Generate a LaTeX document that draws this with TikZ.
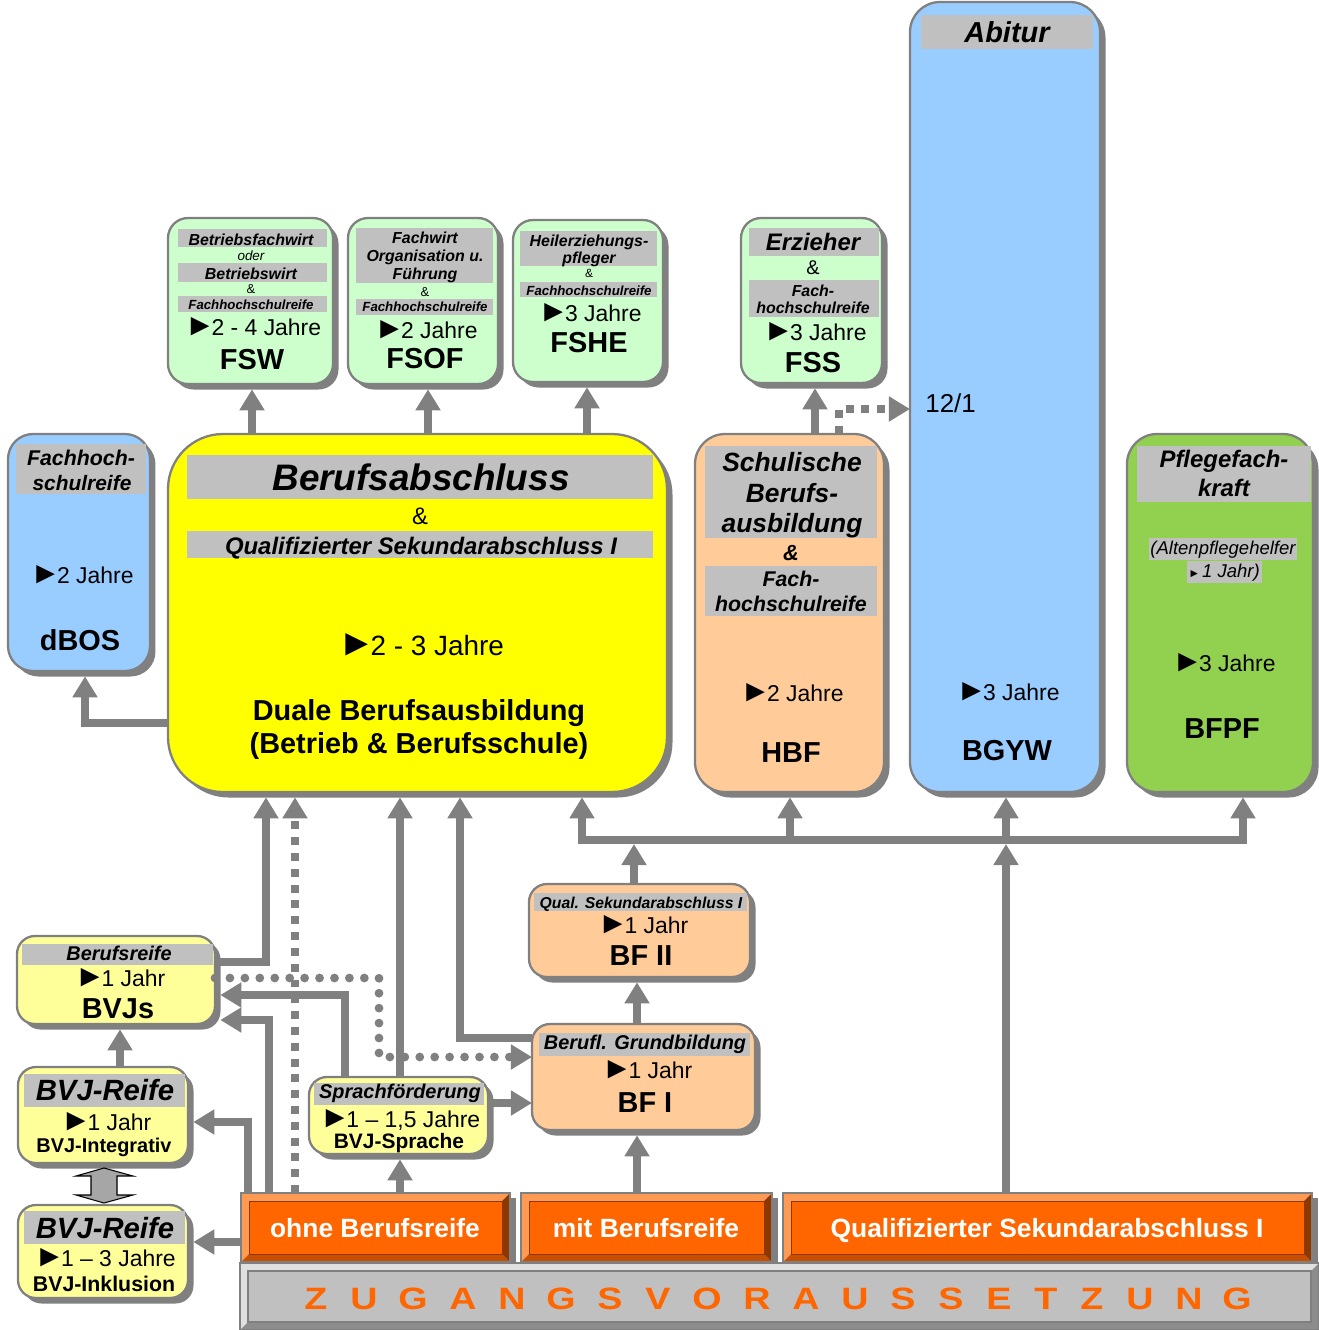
\documentclass[tikz,border=0pt]{standalone}
\usepackage{fontspec}
\setmainfont{Liberation Sans}
\usetikzlibrary{arrows.meta,shadows}
\definecolor{lg}{HTML}{808080}
\definecolor{barc}{HTML}{C0C0C0}
\definecolor{mint}{HTML}{CCFFCC}
\definecolor{sky}{HTML}{99CCFF}
\definecolor{yel}{HTML}{FFFF00}
\definecolor{peach}{HTML}{FFCC99}
\definecolor{grn}{HTML}{92D050}
\definecolor{lyel}{HTML}{FFFF99}
\definecolor{org}{HTML}{FF6600}
\definecolor{orgl}{HTML}{FF9A55}
\definecolor{orgd}{HTML}{C84F00}
\definecolor{orgdd}{HTML}{8C3800}
\definecolor{gl}{HTML}{E0E0E0}
\definecolor{gd}{HTML}{8C8C8C}
\definecolor{dblg}{HTML}{A6A6A6}
\newcommand\fpx[1]{\pgfmathsetmacro\fpxs{#1*0.567}\pgfmathsetmacro\fpxb{#1*0.68}\fontsize{\fpxs pt}{\fpxb pt}\selectfont}
\newcommand\tri{\scalebox{1.35}{►}\kern-0.17em}
\newcommand\mkbox[7]{\node[rectangle, rounded corners=#7, fill=#6, draw=lg, line width=1.3pt, inner sep=0pt, outer sep=0pt, anchor=north west, minimum width={(#4-#2)*0.02cm}, minimum height={(#5-#3)*0.02cm}, general shadow={fill=lg, shadow xshift=0.11cm, shadow yshift=-0.11cm}] (#1) at (#2,#3) {};}
\newcommand\obox[5]{%
 \fill[lg] (#4,{#3+5}) rectangle ({#4+6},#5);
 \fill[orgl] (#2,#3) -- (#4,#3) -- ({#4-8},{#3+8}) -- ({#2+8},{#3+8}) -- ({#2+8},{#5-8}) -- (#2,#5) -- cycle;
 \fill[orgd] (#2,#5) -- ({#2+8},{#5-8}) -- ({#4-8},{#5-8}) -- (#4,#5) -- cycle;
 \fill[orgdd] (#4,#3) -- (#4,#5) -- ({#4-8},{#5-8}) -- ({#4-8},{#3+8}) -- cycle;
 \filldraw[fill=org, draw=orgdd, line width=0.5pt] ({#2+8},{#3+8}) rectangle ({#4-8},{#5-8});
 \node[draw=lg, line width=0.8pt, inner sep=0pt, outer sep=0pt, anchor=north west, minimum width={(#4-#2)*0.02cm}, minimum height={(#5-#3)*0.02cm}] (#1) at (#2,#3) {};}
\begin{document}
\begin{tikzpicture}[x=0.02cm,y=-0.02cm,
 tx/.style={inner sep=0pt, anchor=base, font=\fpx{#1}},
 tb/.style={inner sep=0pt, anchor=base, font=\fpx{#1}\bfseries},
 ti/.style={inner sep=0pt, anchor=base, font=\fpx{#1}\itshape},
 tbi/.style={inner sep=0pt, anchor=base, font=\fpx{#1}\bfseries\itshape},
 ln/.style={draw=lg, line width=4.3pt},
 arr/.style={ln, -{Triangle[width=13.6pt,length=12pt]}},
 sh/.style={shorten >=3pt},
 sqd/.style={dash pattern=on 4.5pt off 4.5pt},
 rdt/.style={line cap=round, line width=5pt, dash pattern=on 0pt off 8.5pt}]
\useasboundingbox (0,0) rectangle (1319,1330);

% ---------- boxes ----------
\mkbox{fsw}{168}{218}{333}{384}{mint}{0.4cm}
\mkbox{fsof}{348}{218}{498}{384}{mint}{0.4cm}
\mkbox{fshe}{513}{220}{663}{382}{mint}{0.4cm}
\mkbox{fss}{741}{218}{882}{383}{mint}{0.4cm}
\mkbox{abi}{910}{2}{1100}{792}{sky}{0.6cm}
\mkbox{dbos}{8}{434}{150}{671}{sky}{0.5cm}
\mkbox{duale}{168}{434}{667}{792}{yel}{1.1cm}
\mkbox{hbf}{695}{434}{884}{792}{peach}{0.6cm}
\mkbox{bfpf}{1127}{434}{1313}{792}{grn}{0.6cm}
\mkbox{bfzwei}{529}{884}{750}{977}{peach}{0.36cm}
\mkbox{bfeins}{532}{1024}{755}{1130}{peach}{0.36cm}
\mkbox{bvjs}{17}{936}{215}{1024}{lyel}{0.36cm}
\mkbox{bvjint}{18}{1067}{188}{1163}{lyel}{0.36cm}
\mkbox{bvjink}{18}{1205}{188}{1298}{lyel}{0.36cm}
\mkbox{sprach}{309}{1077}{488}{1154}{lyel}{0.36cm}

% bottom bevel boxes
\obox{ohne}{241}{1193}{510}{1262}
\obox{mit}{521}{1193}{772}{1262}
\obox{qual}{783}{1193}{1312}{1262}
\fill[gl] (240,1263) -- (1319,1263) -- (1311,1271) -- (248,1271) -- (248,1322) -- (240,1330) -- cycle;
\fill[gd] (240,1330) -- (248,1322) -- (1311,1322) -- (1311,1271) -- (1319,1263) -- (1319,1330) -- cycle;
\filldraw[fill=barc, draw=lg, line width=1pt] (248,1271) rectangle (1311,1322);
\node[draw=lg, line width=0.8pt, inner sep=0pt, outer sep=0pt, anchor=north west, minimum width={1079*0.02cm}, minimum height={67*0.02cm}] (zug) at (240,1263) {};

% ---------- gray label bars ----------
\fill[barc] (178,229) rectangle (327,247);
\fill[barc] (178,263) rectangle (327,282);
\fill[barc] (178,296) rectangle (327,312);
\fill[barc] (356,228) rectangle (493,283);
\fill[barc] (356,299) rectangle (493,315);
\fill[barc] (520,231) rectangle (657,266);
\fill[barc] (520,282) rectangle (657,297);
\fill[barc] (749,228) rectangle (879,256);
\fill[barc] (749,280) rectangle (879,317);
\fill[barc] (921,15) rectangle (1093,49);
\fill[barc] (16,444) rectangle (146,494);
\fill[barc] (187,455) rectangle (653,499);
\fill[barc] (187,531) rectangle (653,558);
\fill[barc] (705,446) rectangle (877,538);
\fill[barc] (705,566) rectangle (877,616);
\fill[barc] (1137,446) rectangle (1311,502);
\fill[barc] (534,893) rectangle (747,911);
\fill[barc] (539,1033) rectangle (750,1056);
\fill[barc] (22,944) rectangle (213,965);
\fill[barc] (24,1074) rectangle (185,1107);
\fill[barc] (24,1211) rectangle (185,1244);
\fill[barc] (314,1083) rectangle (484,1105);

% ---------- texts ----------
% FSW
\node[tbi=16] (fswa) at (251,245) {Betriebsfachwirt};
\node[ti=13.5] (fswb) at (251,260) {oder};
\node[tbi=16] (fswc) at (251,279) {Betriebswirt};
\node[tx=13] (fswd) at (251,293) {\&};
\node[tbi=13.3] (fswe) at (251,309) {Fachhochschulreife};
\node[tx=23] (fswf) at (253,335) {\tri2 - 4 Jahre};
\node[tb=29] (fswg) at (252,369) {FSW};
% FSOF
\node[tbi=16] (fsofa) at (425,243) {Fachwirt};
\node[tbi=16] (fsofb) at (425,261) {Organisation u.};
\node[tbi=16] (fsofc) at (425,279.5) {Führung};
\node[tx=13] (fsofd) at (425,296) {\&};
\node[tbi=13.3] (fsofe) at (425,311) {Fachhochschulreife};
\node[tx=23] (fsoff) at (426,338) {\tri2 Jahre};
\node[tb=29] (fsofg) at (425,368) {FSOF};
% FSHE
\node[tbi=16] (fshea) at (589,246) {Heilerziehungs-};
\node[tbi=16] (fsheb) at (589,263) {pfleger};
\node[tx=12] (fshec) at (589,277) {\&};
\node[tbi=13.3] (fshed) at (589,295) {Fachhochschulreife};
\node[tx=23] (fshee) at (590,321) {\tri3 Jahre};
\node[tb=29] (fshef) at (589,352) {FSHE};
% FSS
\node[tbi=24] (fssa) at (813,250) {Erzieher};
\node[tx=20] (fssb) at (813,274) {\&};
\node[tbi=16] (fssc) at (813,296) {Fach-};
\node[tbi=16] (fssd) at (813,313) {hochschulreife};
\node[tx=23] (fsse) at (815,340) {\tri3 Jahre};
\node[tb=29] (fssf) at (813,372) {FSS};
% Abitur / BGYW
\node[tbi=29] (abia) at (1007,42) {Abitur};
\node[tx=26, anchor=base west] (abib) at (925,412) {12/1};
\node[tx=23] (abic) at (1008,700) {\tri3 Jahre};
\node[tb=29] (abid) at (1007,760) {BGYW};
% dBOS
\node[tbi=21.4] (dba) at (81,465) {Fachhoch-};
\node[tbi=21] (dbb) at (82,490) {schulreife};
\node[tx=23] (dbc) at (82,583) {\tri2 Jahre};
\node[tb=29] (dbd) at (80,650) {dBOS};
% Duale
\node[tbi=37] (dua) at (421,490) {Berufsabschluss};
\node[tx=24] (dub) at (420,524) {\&};
\node[tbi=24] (duc) at (421,554) {Qualifizierter Sekundarabschluss I};
\node[tx=28] (dud) at (421,655) {\tri2 - 3 Jahre};
\node[tb=29] (due) at (419,720) {Duale Berufsausbildung};
\node[tb=29] (duf) at (419,753) {(Betrieb \& Berufsschule)};
% HBF
\node[tbi=26.5] (hba) at (792,471) {Schulische};
\node[tbi=26.5] (hbb) at (792,502) {Berufs-};
\node[tbi=26.5] (hbc) at (792,532) {ausbildung};
\node[tbi=22] (hbd) at (791,560) {\&};
\node[tbi=21.4] (hbe) at (791,586) {Fach-};
\node[tbi=21.4] (hbff) at (791,611) {hochschulreife};
\node[tx=23] (hbg) at (792,701) {\tri2 Jahre};
\node[tb=29] (hbh) at (791,762) {HBF};
% BFPF
\node[tbi=24] (pfa) at (1224,467) {Pflegefach-};
\node[tbi=24] (pfb) at (1224,496) {kraft};
\node[ti=18.6, fill=barc, inner xsep=1pt, inner ysep=1.5pt] (pfc) at (1223,554) {(Altenpflegehelfer};
\node[ti=18.6, fill=barc, inner xsep=1pt, inner ysep=1.5pt] (pfd) at (1224,577) {{\fpx{12}►\,}1 Jahr)};
\node[tx=23] (pfe) at (1224,671) {\tri3 Jahre};
\node[tb=29] (pff) at (1222,738) {BFPF};
% BF II
\node[tbi=15.8] (b2a) at (641,908) {Qual. Sekundarabschluss I};
\node[tx=23] (b2b) at (643,933) {\tri1 Jahr};
\node[tb=29] (b2c) at (641,965) {BF II};
% BF I
\node[tbi=20] (b1a) at (645,1049) {Berufl. Grundbildung};
\node[tx=23] (b1b) at (647,1078) {\tri1 Jahr};
\node[tb=29] (b1c) at (645,1112) {BF I};
% BVJs
\node[tbi=20] (bsa) at (119,960) {Berufsreife};
\node[tx=23] (bsb) at (120,986) {\tri1 Jahr};
\node[tb=29] (bsc) at (118,1018) {BVJs};
% BVJ-Integrativ
\node[tbi=29.4] (bia) at (105,1100) {BVJ-Reife};
\node[tx=23] (bib) at (106,1130) {\tri1 Jahr};
\node[tb=20] (bic) at (104,1152) {BVJ-Integrativ};
% BVJ-Inklusion
\node[tbi=29.4] (bka) at (105,1238) {BVJ-Reife};
\node[tx=23] (bkb) at (105,1266) {\tri1 – 3 Jahre};
\node[tb=21.4] (bkc) at (104,1291) {BVJ-Inklusion};
% Sprachfoerderung
\node[tbi=20] (spa) at (400,1098) {Sprachförderung};
\node[tx=23] (spb) at (400,1127) {\tri1 – 1,5 Jahre};
\node[tb=21] (spc) at (399,1148) {BVJ-Sprache};
% bottom labels
\node[tb=26.5, text=white] (tohne) at (375,1237) {ohne Berufsreife};
\node[tb=26.5, text=white] (tmit) at (646,1237) {mit Berufsreife};
\node[tb=26.5, text=white] (tqual) at (1047,1237) {Qualifizierter Sekundarabschluss I};
\foreach \xx/\ll [count=\i] in {316/Z,364/U,413/G,463/A,512/N,561/G,610/S,658/V,707/O,757/R,806/A,855/U,903/S,951/S,999/E,1046/T,1092/Z,1140/U,1189/N,1237/G}
  \node[tb=31, text=org] (zl\i) at (\xx,1309) {\scalebox{1.22}[1]{\ll}};

% ---------- connectors ----------
\draw[arr,sh] (252,0 |- duale.north) -- (252,0 |- fsw.south);
\draw[arr,sh] (428,0 |- duale.north) -- (428,0 |- fsof.south);
\draw[arr,sh] (587,0 |- duale.north) -- (587,0 |- fshe.south);
\draw[arr,sh] (815,0 |- hbf.north) -- (815,0 |- fss.south);
\draw[arr,sqd] (839,0 |- hbf.north) -- (839,409) -- (839,409 -| abi.west);
\draw[arr,sh] (duale.west |- 0,723) -- (85,723) -- (85,0 |- dbos.south);
\coordinate (busl) at (582,840);
\coordinate (busr) at (1243,840);
\draw[ln, line cap=rect] (busl) -- (busr);
\draw[arr,sh] (busl) -- (busl |- duale.south);
\draw[arr,sh] (790,840) -- (790,0 |- hbf.south);
\draw[arr,sh] (1006,840) -- (1006,0 |- abi.south);
\draw[arr,sh] (busr) -- (busr |- bfpf.south);
\draw[arr] (634,0 |- bfzwei.north) -- (634,844);
\draw[arr] (1006,0 |- qual.north) -- (1006,844);
\draw[arr,sh] (bvjs.east |- 0,962) -- (266,962) -- (266,0 |- duale.south);
\draw[arr,sh,sqd] (295,0 |- ohne.north) -- (295,0 |- duale.south);
\draw[arr,sh] (400,0 |- sprach.north) -- (400,0 |- duale.south);
\draw[arr,sh] (bfeins.west |- 0,1038) -- (460,1038) -- (460,0 |- duale.south);
\draw[arr,sh] (345,0 |- sprach.north) -- (345,995) -- (bvjs.east |- 0,995);
\draw[arr,sh] (269,0 |- ohne.north) -- (269,1020) -- (bvjs.east |- 0,1020);
\draw[arr,rdt] (bvjs.east |- 0,978) -- (379,978) -- (379,1057) -- (bfeins.west |- 0,1057);
\draw[arr,sh] (248,0 |- ohne.north) -- (248,1122) -- (bvjint.east |- 0,1122);
\draw[arr,sh] (ohne.west |- 0,1242) -- (bvjink.east |- 0,1242);
\draw[arr,sh] (400,0 |- ohne.north) -- (400,0 |- sprach.south);
\draw[arr] (sprach.east |- 0,1103) -- (bfeins.west |- 0,1103);
\draw[arr,sh] (637,0 |- mit.north) -- (637,0 |- bfeins.south);
\draw[arr,sh] (637,0 |- bfeins.north) -- (637,0 |- bfzwei.south);
\draw[arr,sh] (120,0 |- bvjint.north) -- (120,0 |- bvjs.south);
% double block arrow between BVJ boxes
\draw[fill=dblg, draw=black, line width=0.6pt] (104,1168) -- (133,1176) -- (117,1176) -- (117,1195) -- (133,1195) -- (104,1203) -- (76,1195) -- (91,1195) -- (91,1176) -- (76,1176) -- cycle;
\end{tikzpicture}
\end{document}
